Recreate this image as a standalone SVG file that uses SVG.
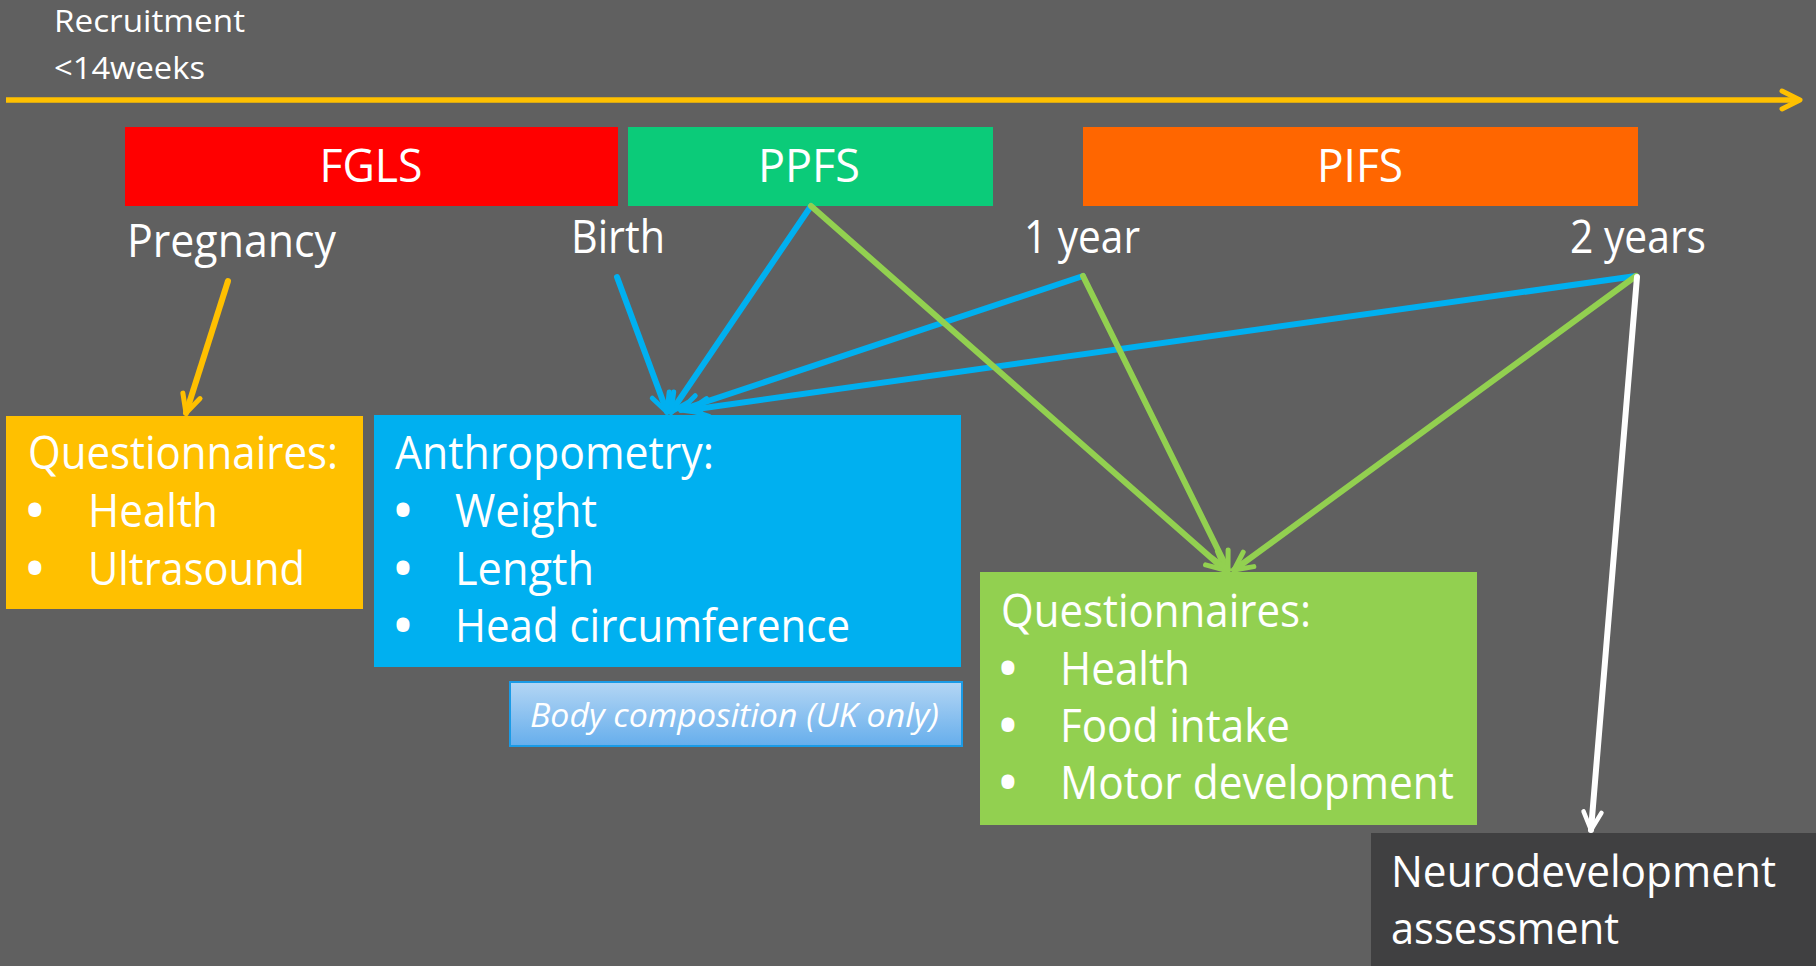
<svg xmlns="http://www.w3.org/2000/svg" width="1816" height="966" viewBox="0 0 1816 966">
<defs>
<style>
text{font-family:"Open Sans","Liberation Sans",sans-serif;fill:#FFFFFF;}
.big{font-size:46px;}
.lbl{font-size:46px;}
.small{font-size:31px;}
.mid{text-anchor:middle;}
.bul{font-size:46px;font-weight:700;text-anchor:middle;}
.ln{fill:none;stroke-width:6;stroke-linecap:round;}
</style>
<marker id="ay" viewBox="0 0 24 24" refX="21" refY="12" markerWidth="24" markerHeight="24" markerUnits="userSpaceOnUse" orient="auto"><path d="M3,3 L21,12 L3,21" fill="none" stroke="#FFC000" stroke-width="5" stroke-linecap="round" stroke-linejoin="round"/></marker>
<marker id="ab" viewBox="0 0 24 24" refX="21" refY="12" markerWidth="24" markerHeight="24" markerUnits="userSpaceOnUse" orient="auto"><path d="M3,3 L21,12 L3,21" fill="none" stroke="#00B0F0" stroke-width="5" stroke-linecap="round" stroke-linejoin="round"/></marker>
<marker id="ag" viewBox="0 0 24 24" refX="21" refY="12" markerWidth="24" markerHeight="24" markerUnits="userSpaceOnUse" orient="auto"><path d="M3,3 L21,12 L3,21" fill="none" stroke="#92D050" stroke-width="5" stroke-linecap="round" stroke-linejoin="round"/></marker>
<marker id="aw" viewBox="0 0 24 24" refX="21" refY="12" markerWidth="24" markerHeight="24" markerUnits="userSpaceOnUse" orient="auto"><path d="M3,3 L21,12 L3,21" fill="none" stroke="#FFFFFF" stroke-width="4.5" stroke-linecap="round" stroke-linejoin="round"/></marker>
<linearGradient id="bodyg" x1="0" y1="0" x2="0" y2="1"><stop offset="0" stop-color="#B4D6F4"/><stop offset="1" stop-color="#66AEEC"/></linearGradient>
</defs>
<rect width="1816" height="966" fill="#606060"/>

<g id="timeline">
<text class="small" x="54" y="32" textLength="191" lengthAdjust="spacingAndGlyphs">Recruitment</text>
<text class="small" x="54" y="79" textLength="151" lengthAdjust="spacingAndGlyphs">&lt;14weeks</text>
<line x1="6" y1="100" x2="1800" y2="100" stroke="#FFC000" stroke-width="5.5" marker-end="url(#ay)"/>
</g>

<g id="fgls"><rect x="125" y="127" width="493" height="79" fill="#FF0000"/><text class="big mid" x="371" y="182" textLength="103" lengthAdjust="spacingAndGlyphs">FGLS</text></g>
<g id="ppfs"><rect x="628" y="127" width="365" height="79" fill="#0BCB79"/><text class="big mid" x="809" y="182" textLength="102" lengthAdjust="spacingAndGlyphs">PPFS</text></g>
<g id="pifs"><rect x="1083" y="127" width="555" height="79" fill="#FF6600"/><text class="big mid" x="1360" y="182" textLength="86" lengthAdjust="spacingAndGlyphs">PIFS</text></g>

<g id="pregnancy"><text class="lbl" x="127" y="257" textLength="209" lengthAdjust="spacingAndGlyphs">Pregnancy</text></g>
<g id="birth"><text class="lbl" x="571" y="253" textLength="94" lengthAdjust="spacingAndGlyphs">Birth</text></g>
<g id="year1"><text class="lbl" x="1024" y="253" textLength="116" lengthAdjust="spacingAndGlyphs">1 year</text></g>
<g id="year2"><text class="lbl" x="1570" y="253" textLength="136" lengthAdjust="spacingAndGlyphs">2 years</text></g>

<g id="connectors">
<line class="ln" x1="228" y1="281" x2="186" y2="413" stroke="#FFC000" marker-end="url(#ay)"/>
<line class="ln" x1="617" y1="277" x2="667" y2="412" stroke="#00B0F0" marker-end="url(#ab)"/>
<line class="ln" x1="811" y1="206" x2="671" y2="412" stroke="#00B0F0" marker-end="url(#ab)"/>
<line class="ln" x1="1083" y1="276" x2="681" y2="410" stroke="#00B0F0" marker-end="url(#ab)"/>
<line class="ln" x1="1636" y1="276" x2="690" y2="410" stroke="#00B0F0" marker-end="url(#ab)"/>
<line class="ln" x1="811" y1="206" x2="1225" y2="570" stroke="#92D050" marker-end="url(#ag)"/>
<line class="ln" x1="1083" y1="276" x2="1228" y2="570" stroke="#92D050" marker-end="url(#ag)"/>
<line class="ln" x1="1636" y1="276" x2="1234" y2="570" stroke="#92D050" marker-end="url(#ag)"/>
<line class="ln" x1="1637" y1="277" x2="1591" y2="830" stroke="#FFFFFF" stroke-width="4.5" marker-end="url(#aw)"/>
</g>

<g id="q-pregnancy">
<rect x="6" y="416" width="357" height="193" fill="#FFC000"/>
<text class="big" x="28" y="469" textLength="310" lengthAdjust="spacingAndGlyphs">Questionnaires:</text>
<text class="bul" x="35" y="527">•</text><text class="big" x="88" y="527" textLength="130" lengthAdjust="spacingAndGlyphs">Health</text>
<text class="bul" x="35" y="585">•</text><text class="big" x="88" y="585" textLength="217" lengthAdjust="spacingAndGlyphs">Ultrasound</text>
</g>

<g id="anthropometry">
<rect x="374" y="415" width="587" height="252" fill="#00B0F0"/>
<text class="big" x="395" y="469" textLength="319" lengthAdjust="spacingAndGlyphs">Anthropometry:</text>
<text class="bul" x="403" y="527">•</text><text class="big" x="455" y="527" textLength="142" lengthAdjust="spacingAndGlyphs">Weight</text>
<text class="bul" x="403" y="585">•</text><text class="big" x="455" y="585" textLength="139" lengthAdjust="spacingAndGlyphs">Length</text>
<text class="bul" x="403" y="642">•</text><text class="big" x="455" y="642" textLength="395" lengthAdjust="spacingAndGlyphs">Head circumference</text>
</g>

<g id="body-composition">
<rect x="510" y="682" width="452" height="64" fill="url(#bodyg)" stroke="#1A9BE6" stroke-width="2"/>
<text x="530" y="727" style="font-size:33px;font-style:italic" textLength="409" lengthAdjust="spacingAndGlyphs">Body composition (UK only)</text>
</g>

<g id="q-infancy">
<rect x="980" y="572" width="497" height="253" fill="#92D050"/>
<text class="big" x="1001" y="627" textLength="310" lengthAdjust="spacingAndGlyphs">Questionnaires:</text>
<text class="bul" x="1008" y="685">•</text><text class="big" x="1060" y="685" textLength="130" lengthAdjust="spacingAndGlyphs">Health</text>
<text class="bul" x="1008" y="742">•</text><text class="big" x="1060" y="742" textLength="230" lengthAdjust="spacingAndGlyphs">Food intake</text>
<text class="bul" x="1008" y="799">•</text><text class="big" x="1060" y="799" textLength="394" lengthAdjust="spacingAndGlyphs">Motor development</text>
</g>

<g id="neurodevelopment">
<rect x="1371" y="833" width="445" height="133" fill="#404041"/>
<text x="1391" y="887" style="font-size:44px" textLength="385" lengthAdjust="spacingAndGlyphs">Neurodevelopment</text>
<text x="1391" y="944" style="font-size:44px" textLength="228" lengthAdjust="spacingAndGlyphs">assessment</text>
</g>
</svg>
